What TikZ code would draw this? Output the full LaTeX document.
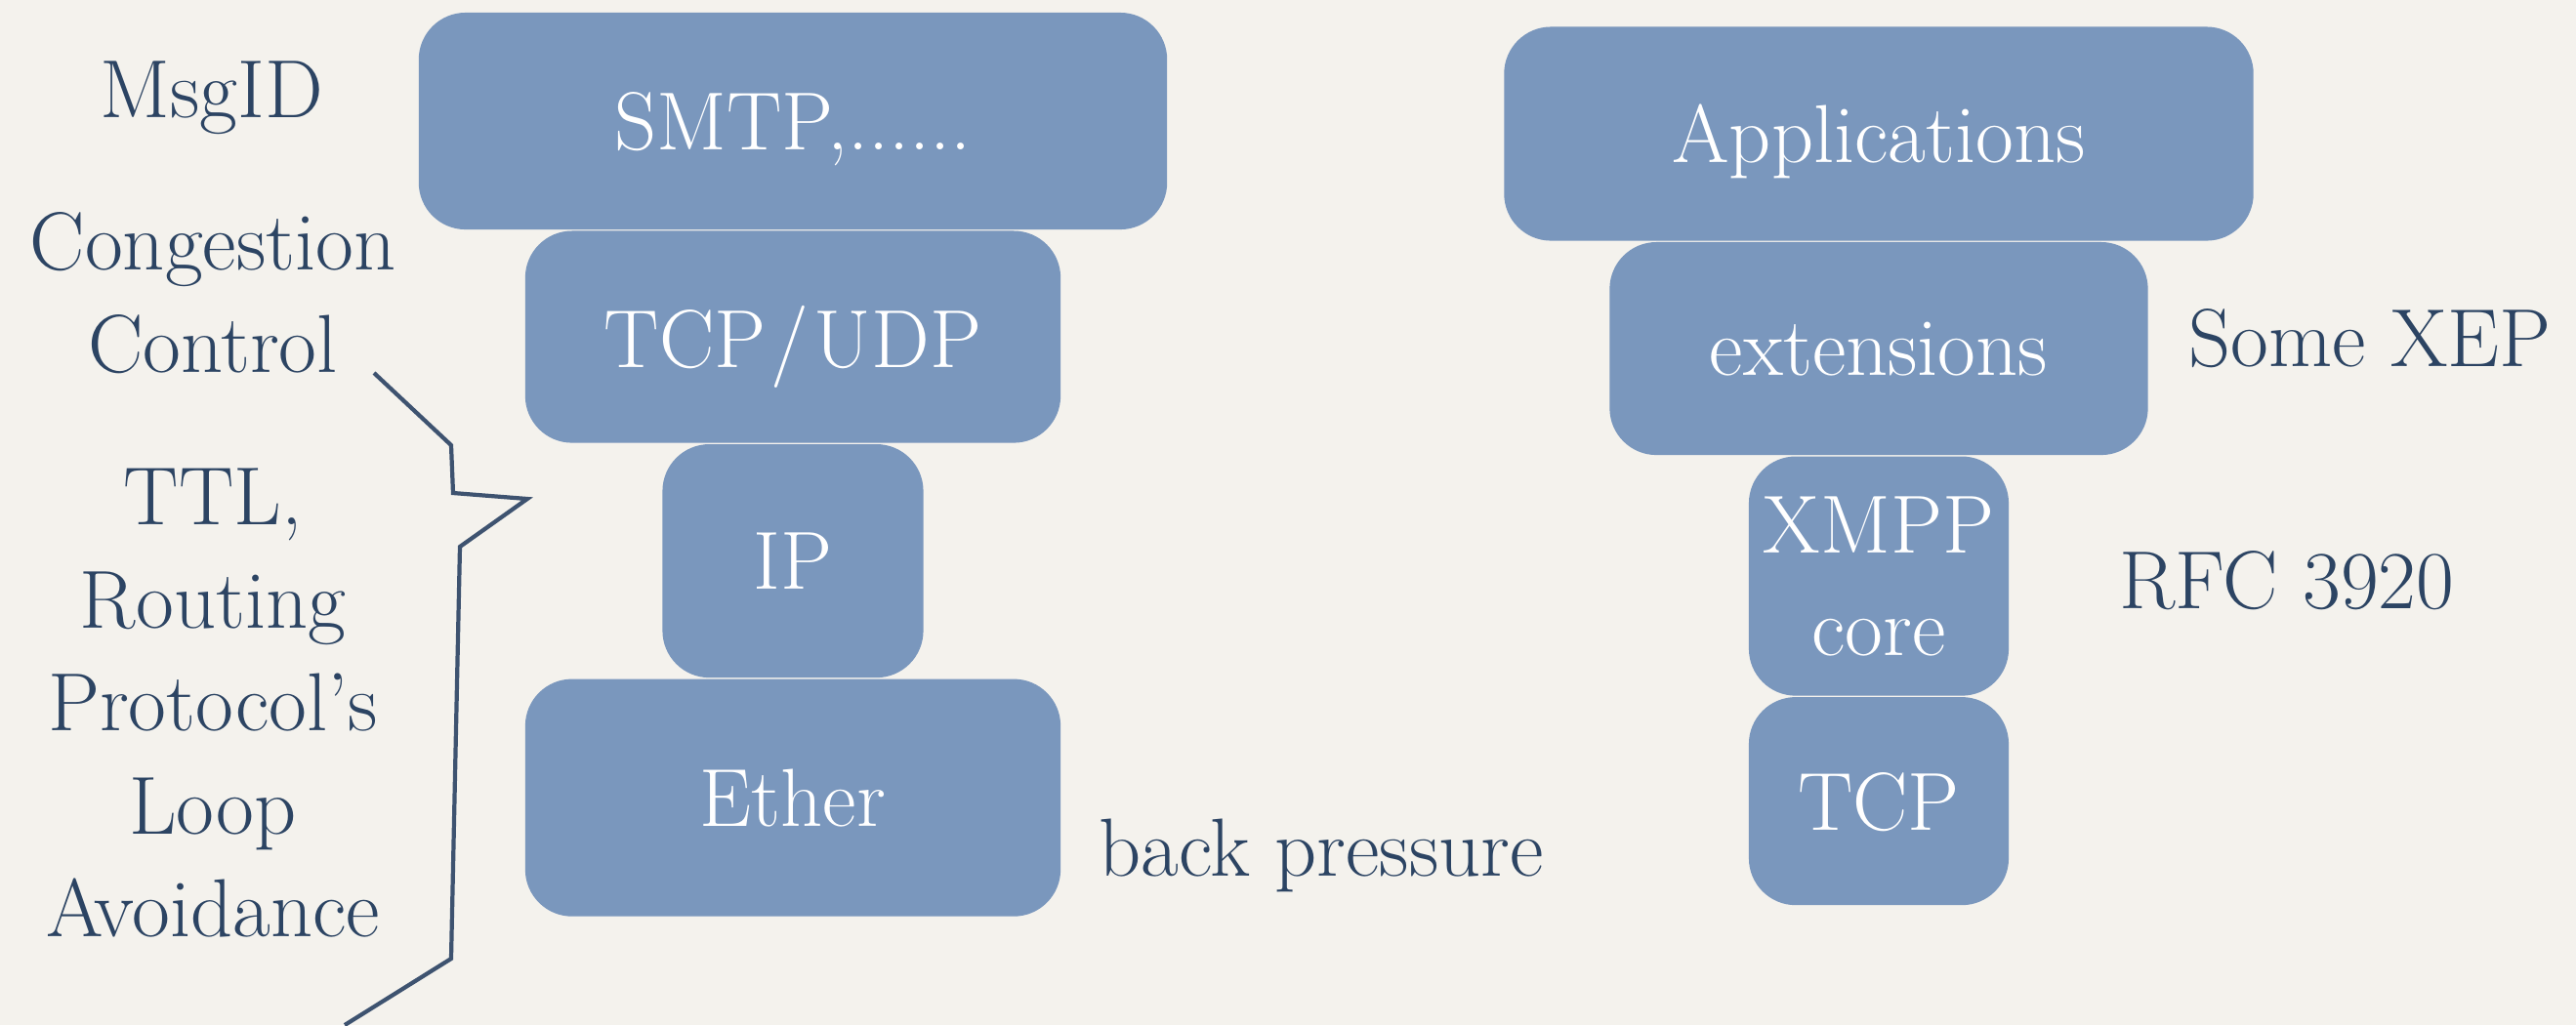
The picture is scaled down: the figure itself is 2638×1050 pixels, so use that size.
\documentclass[tikz,border=0pt]{standalone}
\usepackage{tikz}
\usetikzlibrary{positioning}

\definecolor{paper}{HTML}{F4F2ED}
\definecolor{layerblue}{HTML}{7A97BD}
\definecolor{inkblue}{HTML}{2C4463}
\definecolor{braceline}{HTML}{3E5370}
\newcommand\slidefont{\fontsize{24}{30}\selectfont}

\begin{document}
\begin{tikzpicture}[x=0.01cm, y=-0.01cm,
		  % Define the style of the protocol layer boxes
		  layer/.style={fill=layerblue, rounded corners=0.48cm, text=white, font=\slidefont, align=center, inner sep=0pt, text depth=0pt},
		  % Define the style of the side notes
		  note/.style={text=inkblue, font=\slidefont, align=center},
		  % Define the style of the bracket line
		  bracket/.style={draw=braceline, line width=1.2pt, line join=miter}
		  ]

		  % Background
		  \fill[paper] (0,0) rectangle (2638,1050);
		  \useasboundingbox (0,0) rectangle (2638,1050);

		  % Left protocol stack
		  \node[layer, minimum width=7.66cm, minimum height=2.22cm] (smtp) at (812,124) {SMTP,......};
		  \node[layer, minimum width=5.48cm, minimum height=2.17cm, below=0pt of smtp] (tcpudp) {TCP\kern1.5pt/\kern1.5pt UDP};
		  \node[layer, minimum width=2.67cm, minimum height=2.39cm, below=0pt of tcpudp] (ip) {IP};
		  \node[layer, minimum width=5.48cm, minimum height=2.43cm, below=0pt of ip] (ether) {Ether};

		  % Right protocol stack
		  \node[layer, minimum width=7.67cm, minimum height=2.19cm] (apps) at (1924,137) {Applications};
		  \node[layer, minimum width=5.51cm, minimum height=2.18cm, below=0pt of apps] (ext) {extensions};
		  \node[layer, minimum width=2.66cm, minimum height=2.45cm, below=0pt of ext] (xmpp) {XMPP\\core};
		  \node[layer, minimum width=2.66cm, minimum height=2.13cm, below=0pt of xmpp] (tcp) {TCP};

		  % Side notes
		  \node[note, anchor=base] (msgid) at (217,120) {MsgID};
		  \node[note] (congestion) at (218,300) {Congestion\\Control};
		  \node[note] (ttl) at (218,720) {TTL,\\Routing\\Protocol’s\\Loop\\Avoidance};
		  \node[note, anchor=base] (backpressure) at (1353,897) {back pressure};
		  \node[note, anchor=base] (somexep) at (2427,375) {Some XEP};
		  \node[note, anchor=base] (rfc) at (2342,623) {RFC 3920};

		  % Bracket pointing at the IP layer
		  \coordinate (brtop) at (383,382);
		  \coordinate (brtip) at (540,511);
		  \coordinate (brbottom) at (353,1050);
		  \draw[bracket] (brtop) -- (462,456) -- (464,505) -- (brtip) -- (471,560) -- (462,982) -- (brbottom);
\end{tikzpicture}
\end{document}
